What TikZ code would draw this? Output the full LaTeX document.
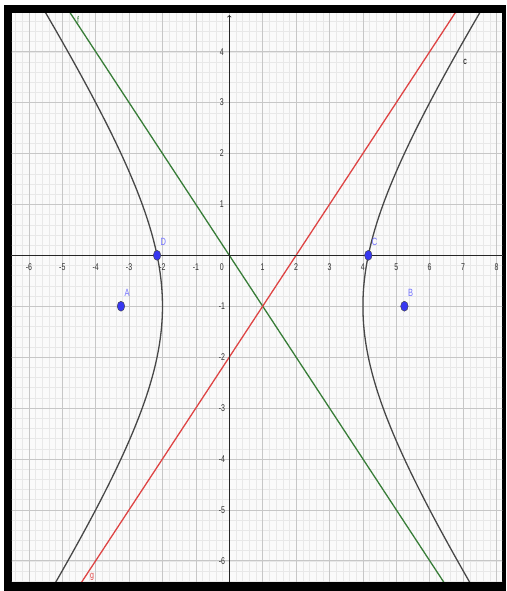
\documentclass[tikz,border=0pt]{standalone}
\usepackage{fontspec}
\setmainfont{Liberation Sans}
\usetikzlibrary{shapes.geometric}
\definecolor{ggreen}{RGB}{56,125,56}
\definecolor{gred}{RGB}{222,68,68}
\definecolor{gblue}{RGB}{55,55,240}
\definecolor{glabel}{RGB}{115,115,255}
\newcommand{\stretched}[1]{\scalebox{1}[1.4]{#1}}
\tikzset{
  minorgrid/.style={draw=black!9, line width=0.4pt},
  majorgrid/.style={draw=black!22, line width=0.6pt},
  axisline/.style={draw=black!85, line width=0.7pt},
  curve/.style={draw=black!72, line width=1.3pt},
  fline/.style={draw=ggreen, line width=1.3pt},
  gline/.style={draw=gred, line width=1.3pt},
  ticklabel/.style={font=\fontsize{7}{7}\selectfont, text=black!80, inner sep=0pt},
  ptlabel/.style={font=\fontsize{7.5}{7.5}\selectfont, text=glabel, inner sep=0pt},
  pt/.style={ellipse, fill=gblue, draw=black!75, line width=0.4pt,
    minimum width=7.5pt, minimum height=10pt, inner sep=0pt}
}
\begin{document}
\begin{tikzpicture}[x=33.4pt, y=50.9pt]
    \useasboundingbox (-6.865,-6.595) rectangle (8.285,5.016);
    % Frame
    \fill[white] (-6.865,-6.595) rectangle (8.285,5.016);
    \fill[black] (-6.745,-6.595) rectangle (8.285,4.917);
    \fill[black!2] (-6.506,-6.418) rectangle (8.165,4.760);

    % Grid, asymptotes and hyperbola
    \begin{scope}
        \clip (-6.506,-6.418) rectangle (8.165,4.760);
        \foreach \i in {-33,...,41}
            \draw[minorgrid] (\i/5,-6.5) -- (\i/5,4.8);
        \foreach \j in {-33,...,24}
            \draw[minorgrid] (-6.6,\j/5) -- (8.2,\j/5);
        \foreach \i in {-6,...,8}
            \draw[majorgrid] (\i,-6.5) -- (\i,4.8);
        \foreach \j in {-6,...,4}
            \draw[majorgrid] (-6.6,\j) -- (8.2,\j);

        \draw[fline] (-5.5,5.5) -- (7,-7);
        \draw[gline] (-5,-7) -- (7.5,5.5);
        \draw[curve] plot[domain=-1.5:1.5, samples=90, variable=\t]
            ({1+3*cosh(\t)}, {-1+3*sinh(\t)});
        \draw[curve] plot[domain=-1.5:1.5, samples=90, variable=\t]
            ({1-3*cosh(\t)}, {-1+3*sinh(\t)});
    \end{scope}

    % Axes
    \draw[axisline] (-6.506,0) -- (8.165,0);
    \draw[axisline,->] (0,-6.418) -- (0,4.72);

    % Tick labels
    \foreach \n in {-6,...,-1,1,2,...,8}
        \node[ticklabel] (xl\n) at (\n,-0.236) {\stretched{\n}};
    \node[ticklabel] (xl0) at (-0.22,-0.236) {\stretched{0}};
    \foreach \n in {-6,...,-1,1,2,...,4}
        \node[ticklabel] (yl\n) at (-0.22,\n) {\stretched{\n}};

    % Curve labels
    \node[ticklabel, text=ggreen] (flabel) at (-4.53,4.62) {\stretched{f}};
    \node[ticklabel, text=gred] (glabel) at (-4.11,-6.32) {\stretched{g}};
    \node[ticklabel, text=black] (clabel) at (7.06,3.80) {\stretched{c}};

    % Vertices and foci
    \node[pt, label={[ptlabel, label distance=5pt]70:\stretched{D}}] (D) at (-2.162,0) {};
    \node[pt, label={[ptlabel, label distance=5pt]70:\stretched{C}}] (C) at (4.162,0) {};
    \node[pt, label={[ptlabel, label distance=5pt]70:\stretched{A}}] (A) at (-3.243,-1) {};
    \node[pt, label={[ptlabel, label distance=5pt]70:\stretched{B}}] (B) at (5.243,-1) {};
\end{tikzpicture}
\end{document}
